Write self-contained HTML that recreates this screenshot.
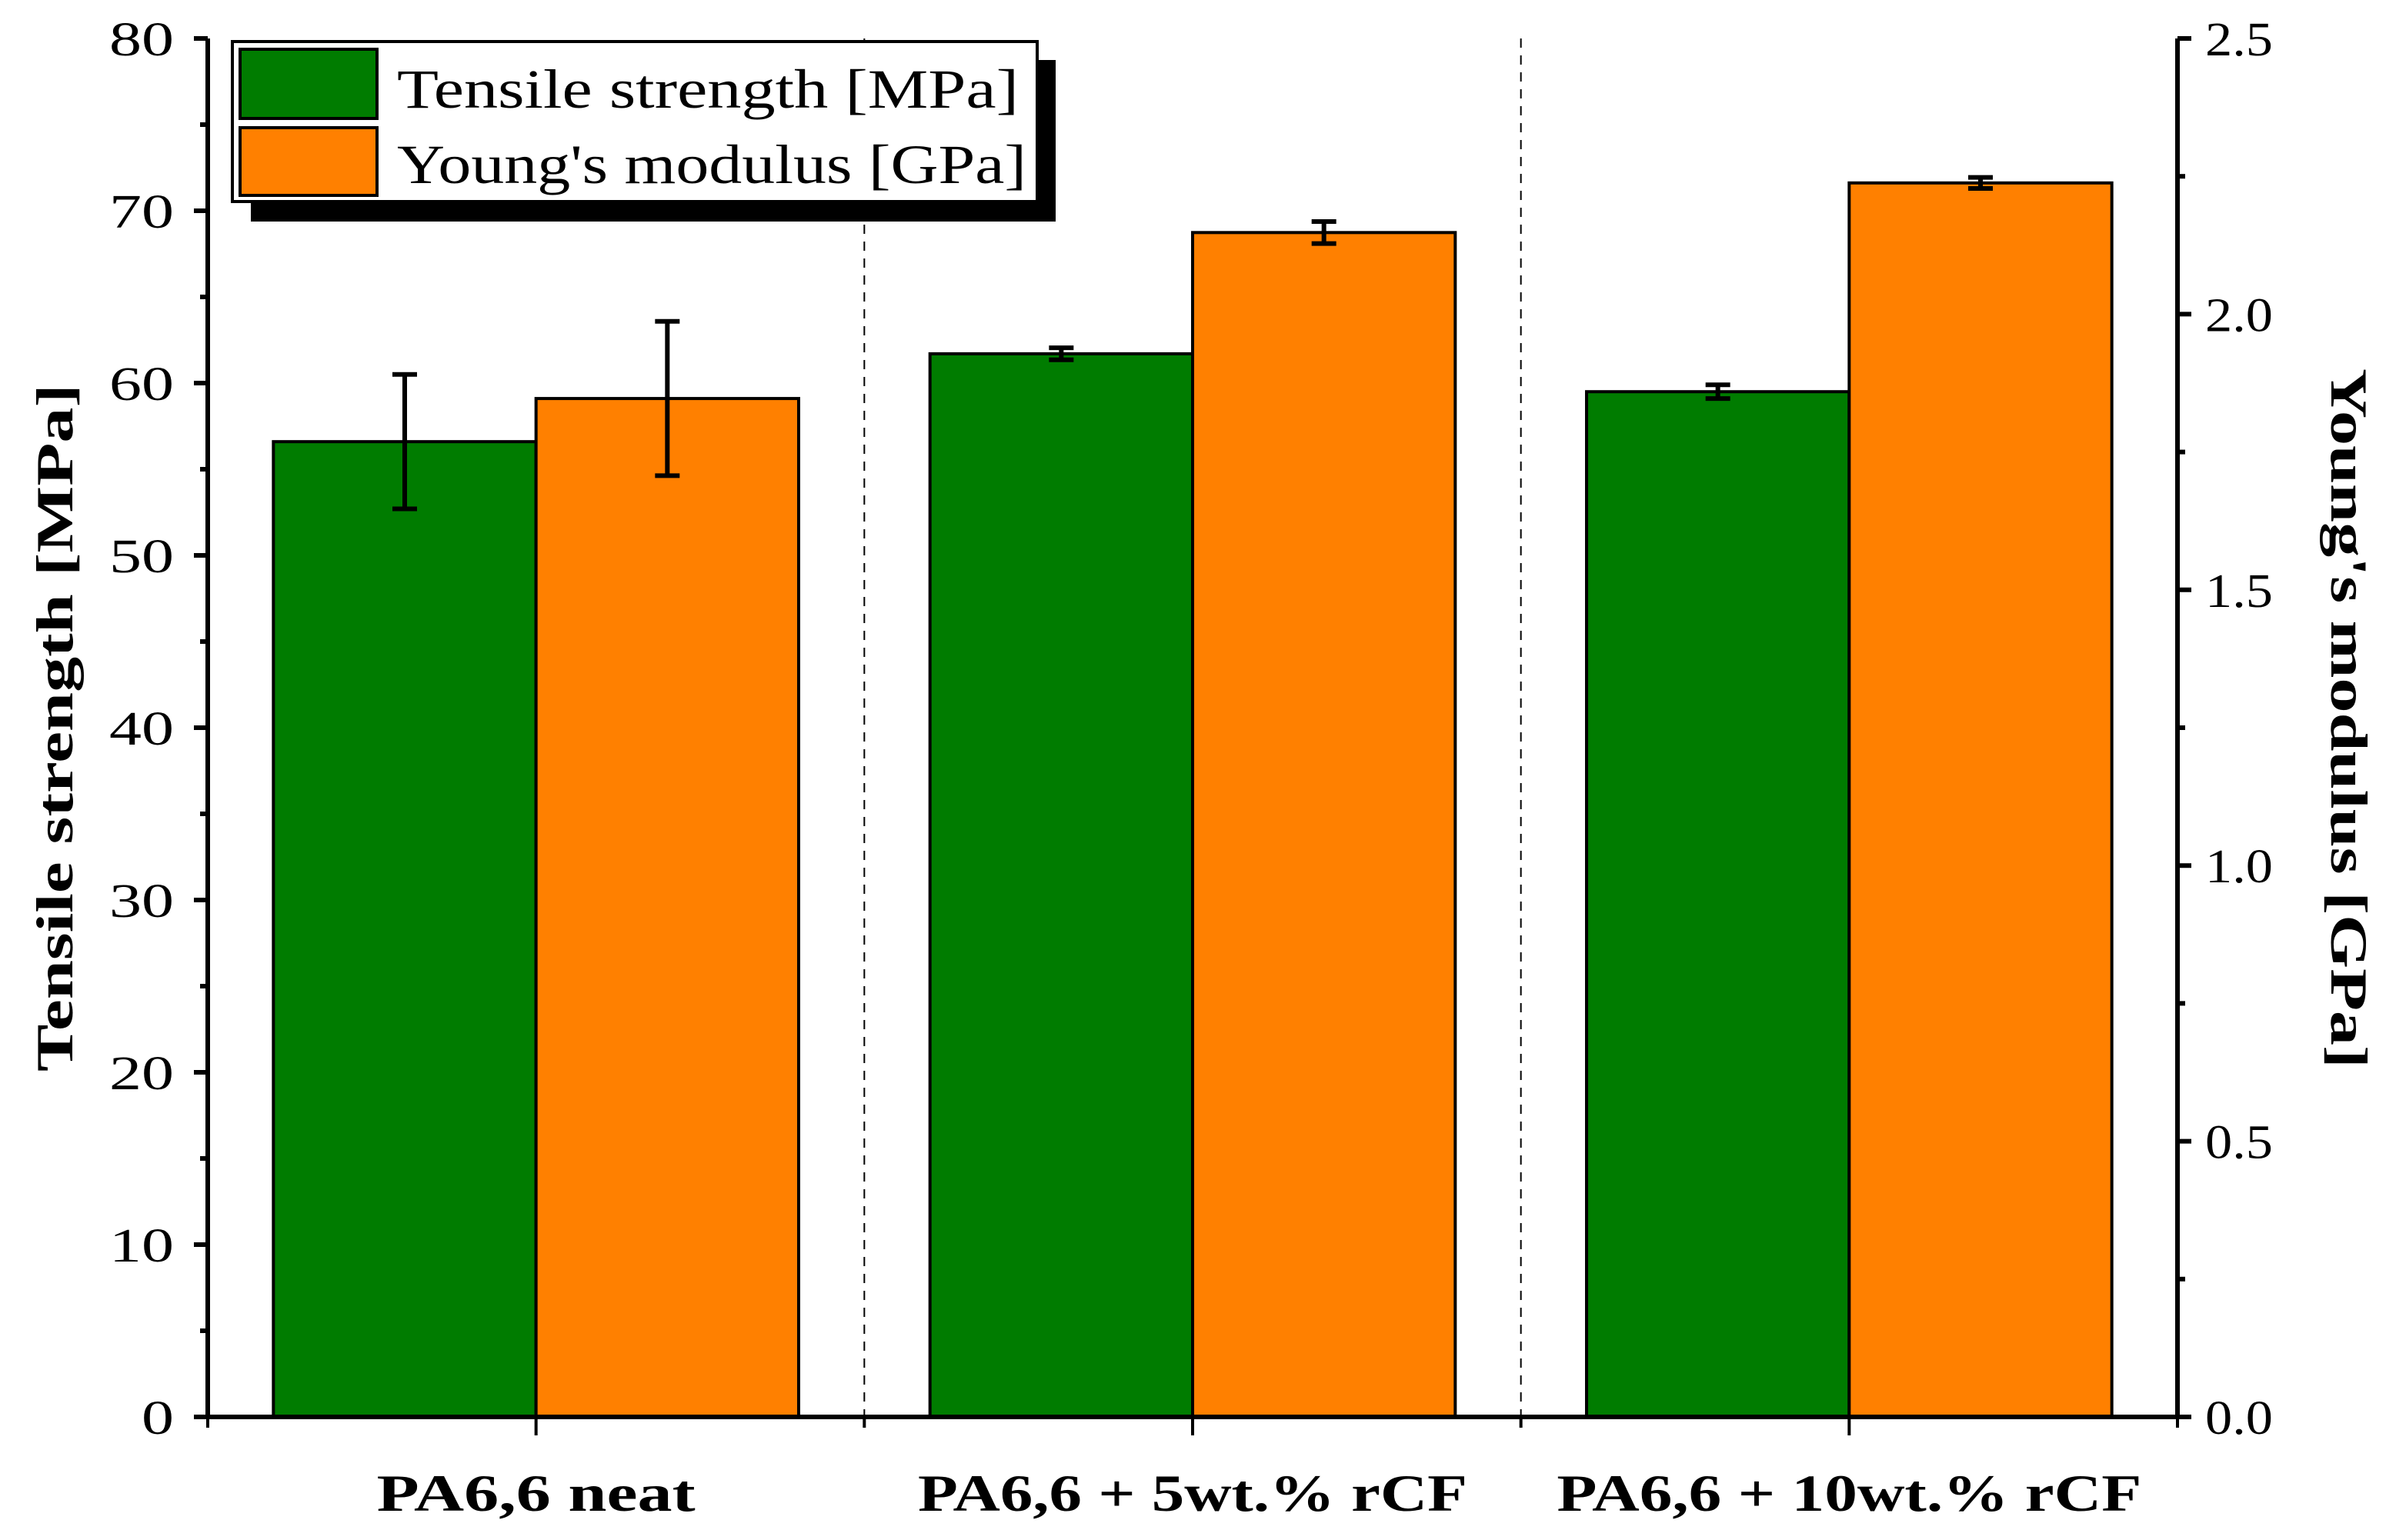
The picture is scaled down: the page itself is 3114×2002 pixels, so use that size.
<!DOCTYPE html>
<html><head><meta charset="utf-8"><style>
html,body{margin:0;padding:0;background:#fff;}
svg{display:block;}
text{font-family:"Liberation Serif",serif;fill:#000;}
</style></head><body>
<svg id="chart" width="3114" height="2002" viewBox="0 0 1557 1001">
<g id="plot"></g>
</svg>
<script>
const categories = ["PA6,6 neat", "PA6,6 + 5wt.% rCF", "PA6,6 + 10wt.% rCF"];
const tensileValues = [56.6, 61.7, 59.5];
const tensileErrors = [3.9, 0.35, 0.4];
const modulusValues = [1.847, 2.148, 2.238];
const modulusErrors = [0.14, 0.02, 0.01];
const leftTicks = [0, 10, 20, 30, 40, 50, 60, 70, 80];
const rightTicks = ["0.0", "0.5", "1.0", "1.5", "2.0", "2.5"];

const NS = "http://www.w3.org/2000/svg";
const g = document.getElementById("plot");
const X0 = 135, X1 = 1415, YT = 25, YB = 921;
const yL = v => YB - (v / 80) * (YB - YT);
const yR = v => YB - (v / 2.5) * (YB - YT);
const catW = (X1 - X0) / categories.length;
const xC = i => X0 + catW * (i + 0.5);
const barW = catW * 0.4;

function el(tag, attrs, parent) {
  const e = document.createElementNS(NS, tag);
  for (const k in attrs) e.setAttribute(k, attrs[k]);
  (parent || g).appendChild(e);
  return e;
}

for (let i = 1; i < categories.length; i++) {
  const s = el("line", {x1: X0 + catW * i, x2: X0 + catW * i, y1: YT, y2: YB, stroke: "#000", "stroke-width": 1, "stroke-dasharray": "6 5"});
  
  
}

categories.forEach((c, i) => {
  const yg = yL(tensileValues[i]);
  const b1 = el("rect", {x: xC(i) - barW, y: yg, width: barW, height: YB - yg, fill: "#007c00", stroke: "#000", "stroke-width": 2});
  
  
  const yo = yR(modulusValues[i]);
  const b2 = el("rect", {x: xC(i), y: yo, width: barW, height: YB - yo, fill: "#ff8000", stroke: "#000", "stroke-width": 2});
  
  
});
categories.forEach((c, i) => {
  const cx1 = xC(i) - barW / 2, cx2 = xC(i) + barW / 2;
  const e1 = el("path", {d: `M${cx1},${yL(tensileValues[i]+tensileErrors[i])}V${yL(tensileValues[i]-tensileErrors[i])}M${cx1-8},${yL(tensileValues[i]+tensileErrors[i])}h16M${cx1-8},${yL(tensileValues[i]-tensileErrors[i])}h16`, stroke: "#000", "stroke-width": 3, fill: "none"});
  
  
  const e2 = el("path", {d: `M${cx2},${yR(modulusValues[i]+modulusErrors[i])}V${yR(modulusValues[i]-modulusErrors[i])}M${cx2-8},${yR(modulusValues[i]+modulusErrors[i])}h16M${cx2-8},${yR(modulusValues[i]-modulusErrors[i])}h16`, stroke: "#000", "stroke-width": 3, fill: "none"});
  
  
});

const ax = el("path", {d: `M${X0},${YT}V${YB}H${X1}V${YT}`, stroke: "#000", "stroke-width": 3, fill: "none"});



leftTicks.forEach(v => {
  el("line", {x1: X0 - 9, x2: X0, y1: yL(v), y2: yL(v), stroke: "#000", "stroke-width": 3});
  const s = String(v);
  const t = el("text", {x: X0 - 22, y: yL(v) + 11, "text-anchor": "end", "font-size": 31, textLength: 21 * s.length, lengthAdjust: "spacingAndGlyphs"});
  t.textContent = s;
  
  
  if (v < 80) el("line", {x1: X0 - 5, x2: X0, y1: yL(v + 5), y2: yL(v + 5), stroke: "#000", "stroke-width": 3});
});
rightTicks.forEach(s => {
  const v = parseFloat(s);
  el("line", {x1: X1, x2: X1 + 9, y1: yR(v), y2: yR(v), stroke: "#000", "stroke-width": 3});
  const t = el("text", {x: X1 + 18, y: yR(v) + 11, "font-size": 31, textLength: 44, lengthAdjust: "spacingAndGlyphs"});
  t.textContent = s;
  
  
  if (v < 2.5) el("line", {x1: X1, x2: X1 + 5, y1: yR(v + 0.25), y2: yR(v + 0.25), stroke: "#000", "stroke-width": 3});
});
for (let i = 0; i <= categories.length; i++) el("line", {x1: X0 + catW * i, x2: X0 + catW * i, y1: YB, y2: YB + 7, stroke: "#000", "stroke-width": 2});
const catLabelWidths = [207, 357, 380];
categories.forEach((c, i) => {
  el("line", {x1: xC(i), x2: xC(i), y1: YB, y2: YB + 12, stroke: "#000", "stroke-width": 2});
  const t = el("text", {x: xC(i), y: 982, "text-anchor": "middle", "font-size": 34, "font-weight": "bold", textLength: catLabelWidths[i], lengthAdjust: "spacingAndGlyphs"});
  t.textContent = c;
  
  
});

const lt = el("text", {x: 0, y: 0, transform: "translate(47,473) rotate(-90)", "text-anchor": "middle", "font-size": 34, "font-weight": "bold", textLength: 447, lengthAdjust: "spacingAndGlyphs"});
lt.textContent = "Tensile strength [MPa]";


const rt = el("text", {x: 0, y: 0, transform: "translate(1515,467) rotate(90)", "text-anchor": "middle", "font-size": 34, "font-weight": "bold", textLength: 455, lengthAdjust: "spacingAndGlyphs"});
rt.textContent = "Young's modulus [GPa]";



const lg = el("g", {});


el("rect", {x: 163, y: 39, width: 523, height: 105, fill: "#000"}, lg);
el("rect", {x: 151, y: 27, width: 523, height: 104, fill: "#fff", stroke: "#000", "stroke-width": 2}, lg);
el("rect", {x: 156, y: 32, width: 89, height: 45, fill: "#007c00", stroke: "#000", "stroke-width": 2}, lg);
el("rect", {x: 156, y: 83, width: 89, height: 44, fill: "#ff8000", stroke: "#000", "stroke-width": 2}, lg);
const l1 = el("text", {x: 258, y: 70, "font-size": 36, textLength: 404, lengthAdjust: "spacingAndGlyphs"}, lg);
l1.textContent = "Tensile strength [MPa]";


const l2 = el("text", {x: 258, y: 119, "font-size": 36, textLength: 409, lengthAdjust: "spacingAndGlyphs"}, lg);
l2.textContent = "Young's modulus [GPa]";


</script>
</body></html>
